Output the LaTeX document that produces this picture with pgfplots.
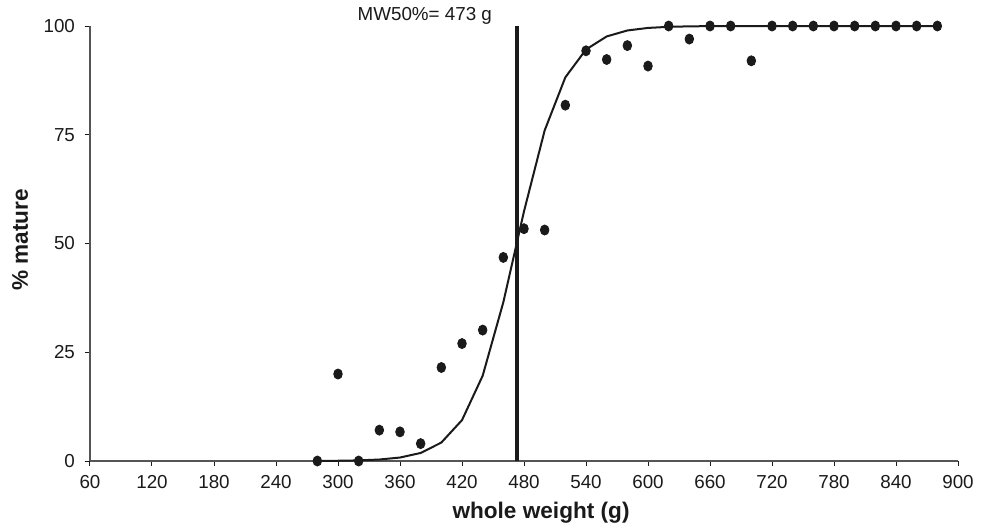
\documentclass[border=0pt]{standalone}
\usepackage{pgfplots}
\pgfplotsset{compat=1.18}
\usepackage{fontspec}
\setmainfont{Liberation Sans}
\definecolor{axgray}{HTML}{555555}
\definecolor{txt}{HTML}{1A1A1A}
\begin{document}
\begin{tikzpicture}
\path (-45pt,-34.5pt) rectangle (449pt,230.5pt);
\begin{axis}[
  at={(0,0)}, anchor=south west,
  scale only axis, width=434pt, height=217.5pt,
  xmin=60, xmax=900, ymin=0, ymax=100,
  xtick={60,120,...,900}, ytick={0,25,50,75,100},
  axis x line*=bottom, axis y line*=left,
  axis line style={color=axgray, line width=0.7pt, -},
  tick align=outside, tick style={color=txt, line width=0.5pt},
  major tick length=2.5pt,
  minor tick num=0,
  tick label style={font=\fontsize{9.4pt}{11pt}\selectfont, color=txt},
  /pgf/number format/assume math mode=true,
  xticklabel style={yshift=-1pt},
  yticklabel style={xshift=-1.5pt},
  xlabel={\bfseries whole weight (g)},
  ylabel={\bfseries \% mature},
  label style={font=\fontsize{11.3pt}{13pt}\selectfont, color=txt},
  xlabel style={at={(axis description cs:0.5196,-0.1195)}, anchor=center},
  ylabel style={at={(axis description cs:-0.0806,0.508)}, anchor=center, rotate=0},
  clip=false,
]
\addplot[color=txt, line width=1pt] coordinates {
(280,0.03) (300,0.06) (320,0.14) (340,0.34) (360,0.8) (380,1.85) (400,4.24)
(420,9.4) (440,19.6) (460,36.5) (480,57.4) (500,76) (520,88.2) (540,94.6)
(560,97.6) (580,98.97) (600,99.56) (620,99.81) (640,99.92) (660,99.97)
(680,99.99) (700,100) (720,100) (740,100) (760,100) (780,100) (800,100)
(820,100) (840,100) (860,100) (880,100)
};
\addplot[only marks, mark=*, color=txt, mark size=2.4pt, mark options={xscale=0.9, yscale=1.05}] coordinates {
(280,0) (300,20) (320,0) (340,7.1) (360,6.7) (380,4.0) (400,21.5) (420,27.0)
(440,30.1) (460,46.8) (480,53.4) (500,53.1) (520,81.8) (540,94.3) (560,92.3)
(580,95.5) (600,90.8) (620,100) (640,97.0) (660,100) (680,100) (700,92.0)
(720,100) (740,100) (760,100) (780,100) (800,100) (820,100) (840,100)
(860,100) (880,100)
};
\addplot[color=txt, line width=2pt] coordinates {(473,0) (473,100)};
\node[font=\fontsize{9.4pt}{11pt}\selectfont, color=txt, anchor=center] at (axis cs:384,102.3) {MW50\%= 473 g};
\end{axis}
\end{tikzpicture}
\end{document}
